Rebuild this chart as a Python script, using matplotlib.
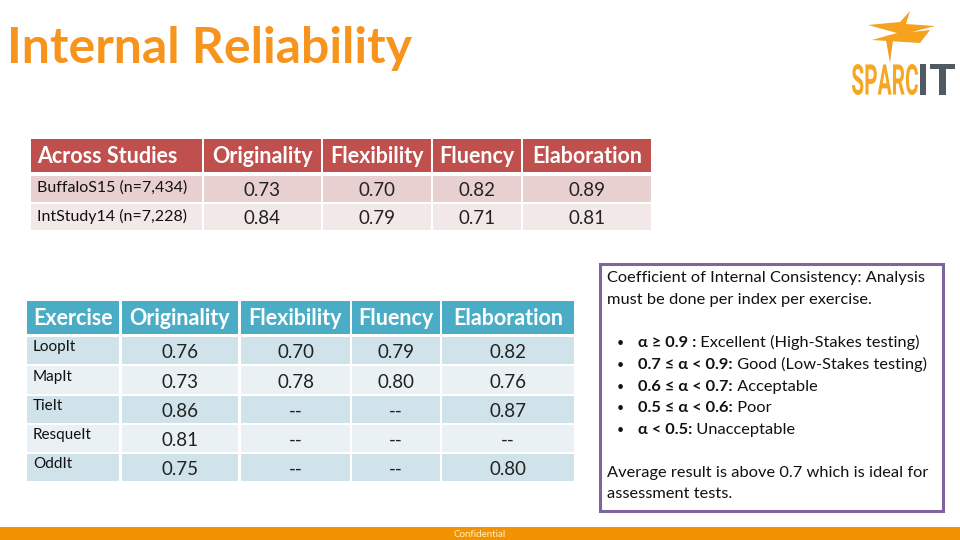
import matplotlib
matplotlib.use("Agg")
import matplotlib.pyplot as plt
from matplotlib.patches import Rectangle, Polygon, PathPatch
from matplotlib.textpath import TextPath
from matplotlib.font_manager import FontProperties
from matplotlib.transforms import Affine2D

FONT = ['Lato', 'DejaVu Sans']
plt.rcParams['font.family'] = FONT

# ---------------- data ----------------
title = "Internal Reliability"

study_header = ["Across Studies", "Originality", "Flexibility", "Fluency", "Elaboration"]
studies = ["BuffaloS15 (n=7,434)", "IntStudy14 (n=7,228)"]
study_originality = [0.73, 0.84]
study_flexibility = [0.70, 0.79]
study_fluency = [0.82, 0.71]
study_elaboration = [0.89, 0.81]

ex_header = ["Exercise", "Originality", "Flexibility", "Fluency", "Elaboration"]
exercises = ["LoopIt", "MapIt", "TieIt", "ResqueIt", "OddIt"]
ex_originality = [0.76, 0.73, 0.86, 0.81, 0.75]
ex_flexibility = [0.70, 0.78, None, None, None]
ex_fluency = [0.79, 0.80, None, None, None]
ex_elaboration = [0.82, 0.76, 0.87, None, 0.80]

box_intro = ["Coefficient of Internal Consistency: Analysis",
             "must be done per index per exercise."]
box_bullets = [("α ≥ 0.9 :", " Excellent (High-Stakes testing)"),
               ("0.7 ≤ α < 0.9:", " Good (Low-Stakes testing)"),
               ("0.6 ≤ α < 0.7:", " Acceptable"),
               ("0.5 ≤ α < 0.6:", " Poor"),
               ("α < 0.5:", " Unacceptable")]
box_outro = ["Average result is above 0.7 which is ideal for",
             "assessment tests."]
footer = "Confidential"

# ---------------- figure ----------------
fig = plt.figure(figsize=(9.6, 5.4), dpi=100)
ax = fig.add_axes([0, 0, 1, 1])
ax.set_xlim(0, 960)
ax.set_ylim(540, 0)
ax.axis('off')

ORANGE = '#f7941d'
ax.text(7, 63, title, fontsize=36, fontweight='bold', color=ORANGE,
        va='baseline', ha='left')


def fmt(v):
    return "--" if v is None else f"{v:.2f}"


def draw_table(cols, header_y, rows_y, header_color, row_colors, header, labels,
               series, head_fs, label_fs, val_fs, label_dy, val_dy):
    # header
    for (x0, x1), h in zip(cols, header):
        ax.add_patch(Rectangle((x0, header_y[0]), x1 - x0, header_y[1] - header_y[0],
                               facecolor=header_color, edgecolor='none'))
    yc = (header_y[0] + header_y[1]) / 2
    ax.text(cols[0][0] + 6, yc + 1, header[0], color='white', fontsize=head_fs,
            fontweight='bold', ha='left', va='center')
    for (x0, x1), h in zip(cols[1:], header[1:]):
        ax.text((x0 + x1) / 2, yc + 1, h, color='white', fontsize=head_fs,
                fontweight='bold', ha='center', va='center')
    # rows
    for i, ((y0, y1), lab) in enumerate(zip(rows_y, labels)):
        c = row_colors[i % 2]
        for (x0, x1) in cols:
            ax.add_patch(Rectangle((x0, y0), x1 - x0, y1 - y0, facecolor=c,
                                   edgecolor='none'))
        ym = (y0 + y1) / 2
        ax.text(cols[0][0] + 6, ym + label_dy, lab, color='#111111', fontsize=label_fs,
                ha='left', va='center')
        for (x0, x1), s in zip(cols[1:], series):
            ax.text((x0 + x1) / 2, ym + val_dy, fmt(s[i]), color='#222222',
                    fontsize=val_fs, ha='center', va='center')


draw_table(cols=[(31, 202), (204, 321), (323, 431), (433, 521), (523, 651)],
           header_y=(139, 172), rows_y=[(176, 202), (204, 230)],
           header_color='#c0504d', row_colors=['#e8d0d0', '#f3e8e8'],
           header=study_header, labels=studies,
           series=[study_originality, study_flexibility, study_fluency, study_elaboration],
           head_fs=15.5, label_fs=11.5, val_fs=13.5, label_dy=-1, val_dy=2)

draw_table(cols=[(27, 119), (122, 238), (241, 350), (352, 440), (442, 574)],
           header_y=(301, 334),
           rows_y=[(337, 364), (366, 394), (396, 423), (425, 452), (454, 481)],
           header_color='#4bacc6', row_colors=['#d0e3ea', '#e9f1f4'],
           header=ex_header, labels=exercises,
           series=[ex_originality, ex_flexibility, ex_fluency, ex_elaboration],
           head_fs=15.5, label_fs=11, val_fs=13.5, label_dy=-3, val_dy=2)

# ---------------- right box ----------------
ax.add_patch(Rectangle((600, 264), 343, 247, facecolor='white', edgecolor='#8064a2',
                       linewidth=2.2))
TXT_FS = 11.8
ax.text(607, 278, box_intro[0], fontsize=TXT_FS, color='#111111', va='center')
ax.text(607, 300, box_intro[1], fontsize=TXT_FS, color='#111111', va='center')
for k, (b, rest) in enumerate(box_bullets):
    y = 343 + k * 21.8
    ax.text(617, y, "•", fontsize=9, color='#111111', va='center', ha='left')
    t = ax.text(638, y, b, fontsize=TXT_FS, fontweight='bold', color='#111111',
                va='center', ha='left', family=FONT)
    ax.annotate(rest, xy=(1, 0), xycoords=t, fontsize=TXT_FS, color='#111111',
                va='bottom', ha='left', family=FONT)
ax.text(607, 473, box_outro[0], fontsize=TXT_FS, color='#111111', va='center')
ax.text(607, 494, box_outro[1], fontsize=TXT_FS, color='#111111', va='center')

# ---------------- footer ----------------
ax.add_patch(Rectangle((0, 527), 960, 13, facecolor='#f39200', edgecolor='none'))
ax.text(480, 534.5, footer, fontsize=7, color='#fff2c0', ha='center', va='center')

# ---------------- logo ----------------
def path_text(s, box, color):
    prop = FontProperties(family='Roboto', weight='bold')
    tp = TextPath((0, 0), s, size=100, prop=prop)
    ext = tp.get_extents()
    x0, y0, x1, y1 = box
    sx = (x1 - x0) / ext.width
    sy = (y1 - y0) / ext.height
    tr = (Affine2D().translate(-ext.x0, -ext.y0).scale(sx, -sy).translate(x0, y1))
    ax.add_patch(PathPatch(tr.transform_path(tp), facecolor=color, edgecolor='none'))

path_text("SPARC", (852, 64, 918, 95), '#f5a623')
path_text("IT", (920, 64, 955, 95), '#4f5a63')
bolt = [(910, 11), (900, 22), (868, 25), (897, 33), (872, 40), (920, 43),
        (930, 30), (912, 32), (935, 26), (906, 24)]
ax.add_patch(Polygon(bolt, closed=True, facecolor='#f6a21e', edgecolor='none'))
ax.add_patch(Polygon([(886, 40), (893, 40), (890, 63)], closed=True,
                     facecolor='#f0a020', edgecolor='none'))

fig.savefig("out.png", dpi=100)
